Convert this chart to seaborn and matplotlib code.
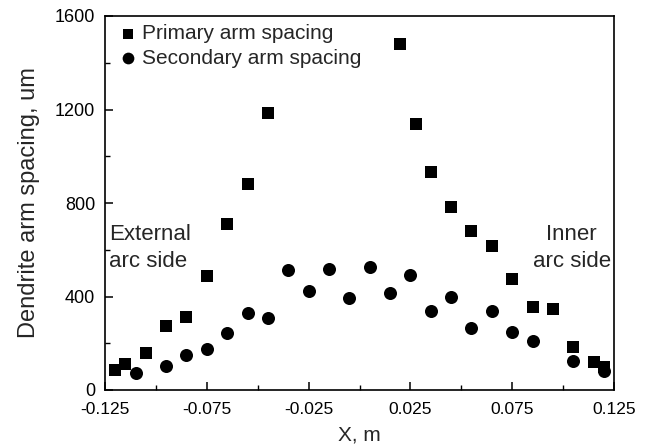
import matplotlib
matplotlib.use("Agg")
import matplotlib.pyplot as plt
import seaborn as sns
import pandas as pd
from matplotlib.ticker import MultipleLocator

# Data
primary_x = [-0.120, -0.115, -0.105, -0.095, -0.085, -0.075, -0.065, -0.055, -0.045,
             0.020, 0.0277, 0.035, 0.045, 0.055, 0.065, 0.075, 0.085, 0.095, 0.105, 0.115, 0.120]
primary_y = [86, 110, 157, 274, 311, 486, 710, 881, 1185,
             1480, 1138, 931, 781, 681, 616, 475, 354, 345, 183, 121, 100]

secondary_x = [-0.110, -0.095, -0.085, -0.075, -0.065, -0.055, -0.045, -0.035, -0.025,
               -0.015, -0.005, 0.005, 0.015, 0.025, 0.035, 0.045, 0.055, 0.065, 0.075,
               0.085, 0.105, 0.120]
secondary_y = [71, 103, 150, 177, 243, 328, 309, 513, 425,
               519, 395, 526, 416, 491, 338, 396, 265, 338, 247,
               208, 124, 83]

x_ticks = [-0.125, -0.075, -0.025, 0.025, 0.075, 0.125]
x_tick_labels = ["-0.125", "-0.075", "-0.025", "0.025", "0.075", "0.125"]
y_ticks = [0, 400, 800, 1200, 1600]

prim = pd.DataFrame({"x": primary_x, "y": primary_y})
sec = pd.DataFrame({"x": secondary_x, "y": secondary_y})

sns.set_style("ticks")
plt.rcParams["font.family"] = ["Liberation Sans", "DejaVu Sans"]

fig = plt.figure(figsize=(6.47, 4.47), dpi=100)
ax = fig.add_axes([105/647, 57/447, 509/647, 374/447])

sns.scatterplot(data=prim, x="x", y="y", marker="s", s=66, color="black",
                linewidth=0, ax=ax, label="Primary arm spacing")
sns.scatterplot(data=sec, x="x", y="y", marker="o", s=88, color="black",
                linewidth=0, ax=ax, label="Secondary arm spacing")

ax.set_xlim(-0.125, 0.125)
ax.set_ylim(0, 1600)
ax.set_xticks(x_ticks)
ax.set_xticklabels(x_tick_labels)
ax.set_yticks(y_ticks)
ax.xaxis.set_minor_locator(MultipleLocator(0.025))
ax.yaxis.set_minor_locator(MultipleLocator(200))
ax.tick_params(which="major", direction="in", length=6, width=1.1,
               color="black", labelcolor="black")
ax.tick_params(axis="x", which="major", labelsize=12.5, pad=9)
ax.tick_params(axis="y", which="major", labelsize=13, pad=7)
ax.tick_params(which="minor", direction="in", length=3.5, width=1.0, color="black")
ax.tick_params(top=False, right=False, which="both")
for sp in ax.spines.values():
    sp.set_visible(True)
    sp.set_linewidth(1.2)
    sp.set_color("black")

ax.set_xlabel("X, m", fontsize=15, labelpad=6)
ax.set_ylabel("Dendrite arm spacing, um", fontsize=17, labelpad=11)

leg = ax.legend(loc="upper left", bbox_to_anchor=(0.0075, 1.0), frameon=False,
                fontsize=15, handletextpad=0.2, handlelength=1.0, borderaxespad=0.0,
                labelspacing=0.25, borderpad=0.4, markerscale=0.9)

ax.text(0.008, 0.38, "External\narc side", transform=ax.transAxes, fontsize=16,
        ha="left", va="center", linespacing=1.4)
ax.text(0.917, 0.38, "Inner\narc side", transform=ax.transAxes, fontsize=16,
        ha="center", va="center", linespacing=1.4)

fig.savefig("out.png", dpi=100)
